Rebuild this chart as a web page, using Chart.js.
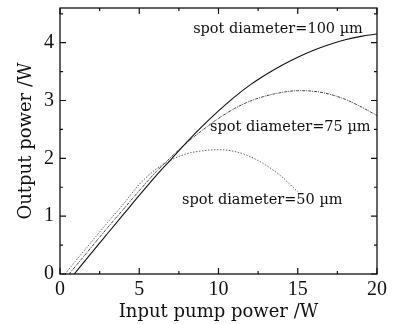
<!DOCTYPE html>
<html>
<head>
<meta charset="utf-8">
<script src="https://cdn.jsdelivr.net/npm/chart.js@4.4.1/dist/chart.umd.min.js"></script>
<style>
  html, body { margin: 0; padding: 0; background: #fff; }
  #wrap { width: 393px; height: 324px; }
</style>
</head>
<body>
<div id="wrap"><canvas id="c"></canvas></div>
<script>
// pump power (W) and output power (W) for each spot diameter
const x100 = [0.9, 2, 3, 4, 5, 6, 7, 8, 9, 10, 11, 12, 13, 14, 15, 16, 17, 18, 19, 20];
const y100 = [0, 0.37, 0.70, 1.03, 1.36, 1.68, 1.98, 2.28, 2.56, 2.82, 3.06, 3.27, 3.45, 3.61, 3.75, 3.87, 3.97, 4.05, 4.11, 4.15];

const x75 = [0.57, 1, 2, 3, 4, 5, 6, 7, 8, 9, 10, 11, 12, 13, 14, 15, 16, 17, 18, 19, 20];
const y75 = [0, 0.14, 0.47, 0.80, 1.12, 1.44, 1.75, 2.02, 2.27, 2.49, 2.69, 2.86, 2.99, 3.08, 3.14, 3.17, 3.16, 3.11, 3.02, 2.89, 2.74];

const x50 = [0.32, 1, 2, 3, 4, 5, 6, 7, 8, 9, 10, 11, 12, 13, 14, 15];
const y50 = [0, 0.23, 0.56, 0.89, 1.21, 1.55, 1.80, 1.97, 2.08, 2.13, 2.15, 2.12, 2.03, 1.88, 1.68, 1.42];

const xTicks = [0, 5, 10, 15, 20];
const yTicks = [0, 1, 2, 3, 4];

// label text, left edge and baseline in data units
const labels = [
  { text: 'spot diameter=100 \u00b5m', x: 8.4, y: 4.16 },
  { text: 'spot diameter=75 \u00b5m', x: 9.47, y: 2.47 },
  { text: 'spot diameter=50 \u00b5m', x: 7.7, y: 1.21 }
];

const serif = "'Liberation Serif', 'DejaVu Serif', serif";
const wide = "'DejaVu Serif', serif";

const pts = (xs, ys) => xs.map((v, i) => ({ x: v, y: ys[i] }));

// inward ticks on all four sides plus the frame
const framePlugin = {
  id: 'frame',
  afterDraw(chart) {
    const { ctx, chartArea: a, scales: { x, y } } = chart;
    ctx.save();
    ctx.strokeStyle = '#111';
    ctx.lineWidth = 1.3;
    ctx.strokeRect(a.left, a.top, a.right - a.left, a.bottom - a.top);
    ctx.lineWidth = 1.2;
    ctx.beginPath();
    for (let v = 0; v <= 20.001; v += 2.5) {
      const px = x.getPixelForValue(v);
      const len = (v % 5 === 0) ? 6 : 3;
      ctx.moveTo(px, a.bottom); ctx.lineTo(px, a.bottom - len);
      ctx.moveTo(px, a.top); ctx.lineTo(px, a.top + len);
    }
    for (let v = 0; v <= 4.6; v += 0.5) {
      const py = y.getPixelForValue(v);
      const len = (Math.abs(v - Math.round(v)) < 0.01) ? 6 : 3;
      ctx.moveTo(a.left, py); ctx.lineTo(a.left + len, py);
      ctx.moveTo(a.right, py); ctx.lineTo(a.right - len, py);
    }
    ctx.stroke();
    ctx.restore();
  }
};

const labelPlugin = {
  id: 'curveLabels',
  afterDatasetsDraw(chart) {
    const { ctx, scales: { x, y } } = chart;
    ctx.save();
    ctx.fillStyle = '#111';
    ctx.font = "14.5px " + wide;
    ctx.textBaseline = 'alphabetic';
    ctx.textAlign = 'left';
    labels.forEach(l => ctx.fillText(l.text, x.getPixelForValue(l.x), y.getPixelForValue(l.y)));
    ctx.restore();
  }
};

new Chart(document.getElementById('c'), {
  type: 'line',
  data: {
    datasets: [{
      data: pts(x100, y100),
      borderColor: '#111',
      borderWidth: 1.1,
      order: 1
    }, {
      data: pts(x75, y75),
      borderColor: '#444',
      borderWidth: 1,
      borderDash: [3, 1, 1, 1],
      order: 2
    }, {
      data: pts(x50, y50),
      borderColor: '#666',
      borderWidth: 1,
      borderDash: [1.5, 1.5],
      order: 3
    }]
  },
  options: {
    responsive: true,
    maintainAspectRatio: false,
    animation: false,
    events: [],
    layout: { padding: { top: 8, right: 16, left: 0, bottom: 0 } },
    elements: {
      point: { radius: 0 },
      line: { tension: 0.4, cubicInterpolationMode: 'monotone', fill: false }
    },
    scales: {
      x: {
        type: 'linear',
        min: 0,
        max: 20,
        grid: { display: false, drawTicks: false },
        border: { display: false },
        afterBuildTicks: s => { s.ticks = xTicks.map(v => ({ value: v })); },
        afterFit: s => { s.height = 50; s.paddingLeft = 0; s.paddingRight = 0; },
        ticks: { color: '#111', padding: 4, font: { family: serif, size: 20 } },
        title: {
          display: true,
          text: 'Input pump power /W',
          color: '#111',
          padding: { top: 0, bottom: 1 },
          font: { family: wide, size: 18 }
        }
      },
      y: {
        type: 'linear',
        min: 0,
        max: 4.6,
        grid: { display: false, drawTicks: false },
        border: { display: false },
        afterBuildTicks: s => { s.ticks = yTicks.map(v => ({ value: v })); },
        afterFit: s => { s.width = 60; s.paddingTop = 0; s.paddingBottom = 0; },
        ticks: { color: '#111', padding: 6, font: { family: serif, size: 20 } },
        title: {
          display: true,
          text: 'Output power /W',
          color: '#111',
          padding: { top: 16, bottom: 0 },
          font: { family: wide, size: 18 }
        }
      }
    },
    plugins: {
      legend: { display: false },
      tooltip: { enabled: false }
    }
  },
  plugins: [framePlugin, labelPlugin]
});
</script>
</body>
</html>
